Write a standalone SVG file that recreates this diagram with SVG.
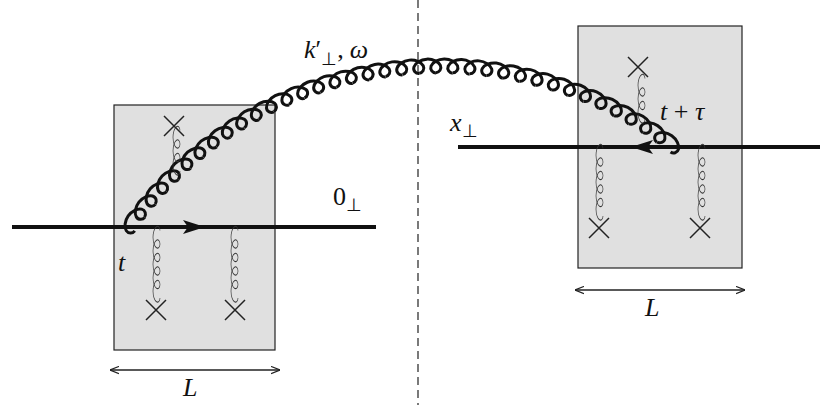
<svg xmlns="http://www.w3.org/2000/svg" width="830" height="405" viewBox="0 0 830 405">
<style>
.box{fill:#e0e0e0;stroke:#222;stroke-width:1.2}
.q{stroke:#111;stroke-width:4;fill:none}
.gl{fill:none;stroke:#111;stroke-width:3}
.gs{fill:none;stroke:#333;stroke-width:1.3}
.x{stroke:#222;stroke-width:1.5}
.dim{stroke:#222;stroke-width:1.3;fill:none}
text{font-family:"Liberation Serif",serif;font-size:26px;fill:#111}
.it{font-style:italic}
</style>
<defs>
<path id="g" d="M0,0 C-3.3,0 -6.18,-3.33 -4.77,-7 C-3.36,-10.67 2.33,-14 8.45,-14 C14.57,-14 20.27,-10.67 21.68,-7 C23.09,-3.33 20.2,0 16.9,0"/>
<marker id="ah" viewBox="0 0 10 10" refX="10" refY="5" markerWidth="9" markerHeight="9" orient="auto-start-reverse" markerUnits="userSpaceOnUse"><path d="M0,1 L10,5 L0,9" fill="none" stroke="#222" stroke-width="1.3"/></marker>
</defs>
<line x1="418" y1="0" x2="418" y2="405" stroke="#333" stroke-width="1.3" stroke-dasharray="8,5"/>
<g id="boxL"><rect class="box" x="114" y="105" width="161" height="245"/></g>
<g id="boxR"><rect class="box" x="578" y="26" width="164" height="242"/></g>
<g id="lines">
<line class="q" x1="12" y1="227" x2="376" y2="227"/>
<path d="M183,220 L205,227 L183,234 L188,227 Z" fill="#111"/>
<line class="q" x1="458" y1="147" x2="820" y2="147"/>
<path d="M653,140 L631,147 L653,154 L648,147 Z" fill="#111"/>
</g>
<g id="bigGluon" class="gl">
<use href="#g" transform="rotate(-54.7 440 447) translate(440 73)"/>
<use href="#g" transform="rotate(-52.125 440 447) translate(440 73)"/>
<use href="#g" transform="rotate(-49.55 440 447) translate(440 73)"/>
<use href="#g" transform="rotate(-46.975 440 447) translate(440 73)"/>
<use href="#g" transform="rotate(-44.4 440 447) translate(440 73)"/>
<use href="#g" transform="rotate(-41.825 440 447) translate(440 73)"/>
<use href="#g" transform="rotate(-39.25 440 447) translate(440 73)"/>
<use href="#g" transform="rotate(-36.675 440 447) translate(440 73)"/>
<use href="#g" transform="rotate(-34.1 440 447) translate(440 73)"/>
<use href="#g" transform="rotate(-31.525 440 447) translate(440 73)"/>
<use href="#g" transform="rotate(-28.95 440 447) translate(440 73)"/>
<use href="#g" transform="rotate(-26.375 440 447) translate(440 73)"/>
<use href="#g" transform="rotate(-23.8 440 447) translate(440 73)"/>
<use href="#g" transform="rotate(-21.225 440 447) translate(440 73)"/>
<use href="#g" transform="rotate(-18.65 440 447) translate(440 73)"/>
<use href="#g" transform="rotate(-16.075 440 447) translate(440 73)"/>
<use href="#g" transform="rotate(-13.5 440 447) translate(440 73)"/>
<use href="#g" transform="rotate(-10.925 440 447) translate(440 73)"/>
<use href="#g" transform="rotate(-8.35 440 447) translate(440 73)"/>
<use href="#g" transform="rotate(-5.775 440 447) translate(440 73)"/>
<use href="#g" transform="rotate(-3.2 440 447) translate(440 73)"/>
<use href="#g" transform="rotate(-0.625 440 447) translate(440 73)"/>
<use href="#g" transform="rotate(1.95 440 447) translate(440 73)"/>
<use href="#g" transform="rotate(4.525 440 447) translate(440 73)"/>
<use href="#g" transform="rotate(7.1 440 447) translate(440 73)"/>
<use href="#g" transform="rotate(9.675 440 447) translate(440 73)"/>
<use href="#g" transform="rotate(12.25 440 447) translate(440 73)"/>
<use href="#g" transform="rotate(14.825 440 447) translate(440 73)"/>
<use href="#g" transform="rotate(17.4 440 447) translate(440 73)"/>
<use href="#g" transform="rotate(19.975 440 447) translate(440 73)"/>
<use href="#g" transform="rotate(22.55 440 447) translate(440 73)"/>
<use href="#g" transform="rotate(25.125 440 447) translate(440 73)"/>
<use href="#g" transform="rotate(27.7 440 447) translate(440 73)"/>
<use href="#g" transform="rotate(30.275 440 447) translate(440 73)"/>
<use href="#g" transform="rotate(32.85 440 447) translate(440 73)"/>
<use href="#g" transform="rotate(35.425 440 447) translate(440 73)"/>
</g>
<g id="smallGluons" class="gs">
<use href="#g" transform="translate(160 298) rotate(-90) scale(0.8 0.5)"/>
<use href="#g" transform="translate(160 284.5) rotate(-90) scale(0.8 0.5)"/>
<use href="#g" transform="translate(160 271) rotate(-90) scale(0.8 0.5)"/>
<use href="#g" transform="translate(160 257.5) rotate(-90) scale(0.8 0.5)"/>
<use href="#g" transform="translate(160 244) rotate(-90) scale(0.8 0.5)"/>
<use href="#g" transform="translate(238 298) rotate(-90) scale(0.8 0.5)"/>
<use href="#g" transform="translate(238 284.5) rotate(-90) scale(0.8 0.5)"/>
<use href="#g" transform="translate(238 271) rotate(-90) scale(0.8 0.5)"/>
<use href="#g" transform="translate(238 257.5) rotate(-90) scale(0.8 0.5)"/>
<use href="#g" transform="translate(238 244) rotate(-90) scale(0.8 0.5)"/>
<use href="#g" transform="translate(180 171) rotate(-90) scale(0.8 0.5)"/>
<use href="#g" transform="translate(180 157.5) rotate(-90) scale(0.8 0.5)"/>
<use href="#g" transform="translate(180 144) rotate(-90) scale(0.8 0.5)"/>
<use href="#g" transform="translate(645 119) rotate(-90) scale(0.8 0.5)"/>
<use href="#g" transform="translate(645 105.5) rotate(-90) scale(0.8 0.5)"/>
<use href="#g" transform="translate(645 92) rotate(-90) scale(0.8 0.5)"/>
<use href="#g" transform="translate(603 216) rotate(-90) scale(0.8 0.5)"/>
<use href="#g" transform="translate(603 202.5) rotate(-90) scale(0.8 0.5)"/>
<use href="#g" transform="translate(603 189) rotate(-90) scale(0.8 0.5)"/>
<use href="#g" transform="translate(603 175.5) rotate(-90) scale(0.8 0.5)"/>
<use href="#g" transform="translate(603 162) rotate(-90) scale(0.8 0.5)"/>
<use href="#g" transform="translate(705 216) rotate(-90) scale(0.8 0.5)"/>
<use href="#g" transform="translate(705 202.5) rotate(-90) scale(0.8 0.5)"/>
<use href="#g" transform="translate(705 189) rotate(-90) scale(0.8 0.5)"/>
<use href="#g" transform="translate(705 175.5) rotate(-90) scale(0.8 0.5)"/>
<use href="#g" transform="translate(705 162) rotate(-90) scale(0.8 0.5)"/>
</g>
<g id="crosses" class="x">
<path d="M146,300 L166,320 M166,300 L146,320"/>
<path d="M225,300 L245,320 M245,300 L225,320"/>
<path d="M164,116 L184,136 M184,116 L164,136"/>
<path d="M628,57 L648,77 M648,57 L628,77"/>
<path d="M589,218 L609,238 M609,218 L589,238"/>
<path d="M690,218 L710,238 M710,218 L690,238"/>
</g>
<g id="dims">
<line class="dim" x1="110" y1="370" x2="280" y2="370" marker-start="url(#ah)" marker-end="url(#ah)"/>
<line class="dim" x1="575" y1="290" x2="745" y2="290" marker-start="url(#ah)" marker-end="url(#ah)"/>
</g>
<g id="labels">
<text class="it" x="183" y="396">L</text>
<text class="it" x="645" y="316">L</text>
<text x="304" y="58"><tspan class="it">k</tspan><tspan>′</tspan><tspan font-size="18" dy="7">⊥</tspan><tspan dy="-7">,</tspan><tspan class="it" dx="6">ω</tspan></text>
<text x="333" y="205">0<tspan font-size="18" dy="6">⊥</tspan></text>
<text x="450" y="131"><tspan class="it">x</tspan><tspan font-size="18" dy="6">⊥</tspan></text>
<text class="it" x="118" y="271">t</text>
<text x="660" y="120"><tspan class="it">t</tspan> + <tspan class="it">τ</tspan></text>
</g>
</svg>
